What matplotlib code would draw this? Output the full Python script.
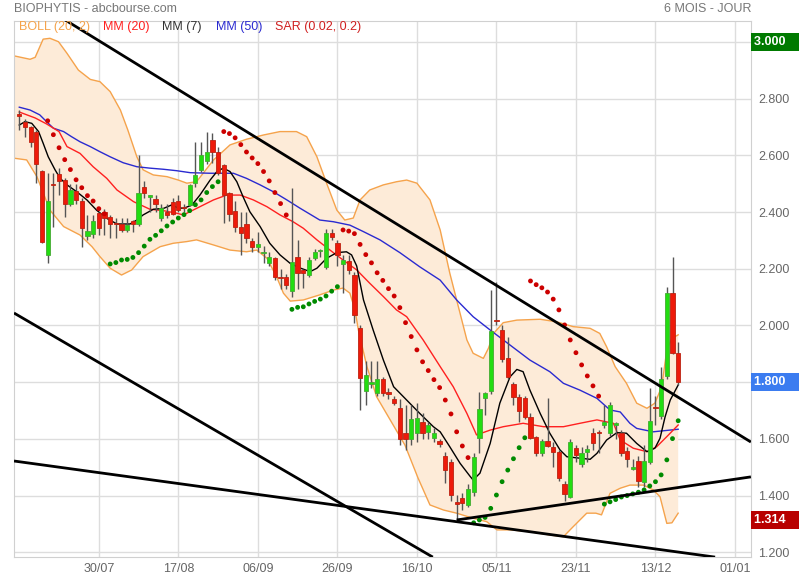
import matplotlib
matplotlib.use("Agg")
import matplotlib.pyplot as plt
import matplotlib.transforms as mtransforms
import numpy as np

plt.rcParams['font.family'] = ['Liberation Sans', 'DejaVu Sans']

# daily candles, index 0 = first trading day shown
opens = [2.745, 2.719, 2.699, 2.684, 2.546, 2.248, 2.497, 2.534, 2.513, 2.428,
         2.473, 2.439, 2.317, 2.322, 2.396, 2.399, 2.383, 2.358, 2.358, 2.337,
         2.369, 2.358, 2.487, 2.452, 2.447, 2.378, 2.401, 2.437, 2.439, 2.414,
         2.425, 2.502, 2.549, 2.581, 2.654, 2.613, 2.566, 2.466, 2.405, 2.346,
         2.357, 2.299, 2.276, 2.255, 2.219, 2.237, 2.170, 2.172, 2.123, 2.243,
         2.196, 2.178, 2.237, 2.261, 2.207, 2.325, 2.290, 2.217, 2.229, 2.178,
         1.992, 1.770, 1.794, 1.761, 1.810, 1.762, 1.740, 1.710, 1.620, 1.600,
         1.620, 1.660, 1.625, 1.603, 1.593, 1.540, 1.520, 1.378, 1.390, 1.367,
         1.411, 1.602, 1.743, 1.770, 2.017, 1.984, 1.884, 1.793, 1.747, 1.743,
         1.678, 1.606, 1.549, 1.593, 1.570, 1.553, 1.440, 1.396, 1.569, 1.511,
         1.553, 1.622, 1.623, 1.649, 1.622, 1.650, 1.620, 1.557, 1.495, 1.523,
         1.449, 1.520, 1.712, 1.681, 1.822, 2.114, 1.902]
highs = [2.760, 2.727, 2.705, 2.690, 2.550, 2.537, 2.537, 2.554, 2.520, 2.500,
         2.500, 2.450, 2.390, 2.390, 2.400, 2.410, 2.390, 2.380, 2.380, 2.380,
         2.372, 2.601, 2.510, 2.460, 2.460, 2.430, 2.430, 2.450, 2.460, 2.430,
         2.500, 2.648, 2.648, 2.684, 2.678, 2.630, 2.570, 2.470, 2.440, 2.400,
         2.400, 2.310, 2.330, 2.280, 2.260, 2.240, 2.200, 2.180, 2.484, 2.300,
         2.200, 2.240, 2.270, 2.270, 2.339, 2.340, 2.300, 2.250, 2.250, 2.190,
         2.000, 1.875, 1.875, 1.875, 1.820, 1.780, 1.750, 1.740, 1.720, 1.720,
         1.727, 1.690, 1.660, 1.640, 1.600, 1.555, 1.530, 1.402, 1.410, 1.440,
         1.550, 1.766, 1.766, 2.125, 2.155, 2.000, 1.960, 1.800, 1.760, 1.750,
         1.690, 1.610, 1.600, 1.743, 1.590, 1.560, 1.450, 1.600, 1.580, 1.570,
         1.580, 1.640, 1.630, 1.720, 1.730, 1.660, 1.630, 1.570, 1.530, 1.540,
         1.580, 1.778, 1.750, 1.855, 2.137, 2.243, 1.943]
lows = [2.690, 2.666, 2.631, 2.502, 2.290, 2.219, 2.349, 2.460, 2.382, 2.420,
        2.430, 2.278, 2.300, 2.310, 2.320, 2.320, 2.310, 2.310, 2.330, 2.330,
        2.330, 2.350, 2.450, 2.400, 2.400, 2.370, 2.380, 2.390, 2.400, 2.400,
        2.420, 2.490, 2.540, 2.570, 2.572, 2.530, 2.361, 2.370, 2.330, 2.249,
        2.290, 2.260, 2.260, 2.220, 2.210, 2.160, 2.130, 2.130, 2.102, 2.130,
        2.133, 2.170, 2.230, 2.240, 2.200, 2.300, 2.210, 2.114, 2.180, 2.009,
        1.702, 1.720, 1.780, 1.750, 1.750, 1.740, 1.720, 1.580, 1.560, 1.580,
        1.590, 1.600, 1.600, 1.590, 1.570, 1.443, 1.380, 1.314, 1.350, 1.360,
        1.400, 1.551, 1.686, 1.760, 2.000, 1.870, 1.810, 1.720, 1.660, 1.670,
        1.600, 1.540, 1.540, 1.570, 1.500, 1.450, 1.380, 1.390, 1.520, 1.500,
        1.520, 1.560, 1.550, 1.640, 1.610, 1.600, 1.540, 1.500, 1.490, 1.430,
        1.430, 1.510, 1.650, 1.670, 1.810, 1.900, 1.790]
closes = [2.740, 2.699, 2.648, 2.570, 2.296, 2.439, 2.495, 2.511, 2.428, 2.478,
          2.443, 2.343, 2.333, 2.369, 2.345, 2.378, 2.358, 2.357, 2.337, 2.353,
          2.358, 2.466, 2.466, 2.459, 2.429, 2.413, 2.390, 2.393, 2.407, 2.413,
          2.496, 2.531, 2.601, 2.611, 2.613, 2.537, 2.460, 2.392, 2.346, 2.325,
          2.308, 2.276, 2.287, 2.256, 2.243, 2.170, 2.168, 2.143, 2.225, 2.184,
          2.184, 2.231, 2.260, 2.262, 2.325, 2.313, 2.249, 2.231, 2.196, 2.037,
          1.814, 1.825, 1.802, 1.810, 1.761, 1.760, 1.728, 1.600, 1.600, 1.669,
          1.675, 1.620, 1.649, 1.620, 1.581, 1.490, 1.402, 1.370, 1.375, 1.422,
          1.537, 1.704, 1.761, 1.982, 2.015, 1.881, 1.817, 1.749, 1.700, 1.678,
          1.604, 1.549, 1.593, 1.576, 1.553, 1.463, 1.405, 1.590, 1.543, 1.551,
          1.563, 1.587, 1.620, 1.661, 1.720, 1.656, 1.551, 1.528, 1.500, 1.453,
          1.523, 1.663, 1.710, 1.810, 2.114, 1.902, 1.800]

# parabolic SAR (none before day 5)
sar = [None] * 5 + [
    2.722, 2.673, 2.627, 2.585, 2.550, 2.514, 2.486, 2.458, 2.439, 2.412, 2.394,
    2.217, 2.222, 2.231, 2.233, 2.240, 2.257, 2.280, 2.304, 2.318, 2.334,
    2.351, 2.365, 2.379, 2.391, 2.405, 2.426, 2.443, 2.469, 2.490, 2.507,
    2.684, 2.677, 2.662, 2.638, 2.612, 2.591, 2.571, 2.543, 2.510, 2.469,
    2.430, 2.390,
    2.057, 2.064, 2.066, 2.076, 2.085, 2.093, 2.104, 2.121, 2.137,
    2.337, 2.333, 2.324, 2.286, 2.250, 2.221, 2.186, 2.159, 2.130, 2.104,
    2.063, 2.010, 1.961, 1.914, 1.872, 1.841, 1.809, 1.781, 1.737, 1.688,
    1.625, 1.575, 1.534,
    1.304, 1.314, 1.323, 1.355, 1.402, 1.449, 1.490, 1.530, 1.569, 1.604,
    2.157, 2.144, 2.133, 2.118, 2.093, 2.055, 2.002, 1.949, 1.904, 1.861,
    1.822, 1.787, 1.751,
    1.370, 1.378, 1.386, 1.395, 1.400, 1.406, 1.412, 1.420, 1.434, 1.449,
    1.473, 1.526, 1.601, 1.664]

# Bollinger (20, 2) upper / lower band
bb_up_x = [-0.9, 1.9, 2.8, 4.2, 5.4, 6.9, 8.4, 10.4, 12.5, 14.2, 16.0, 17.8,
           19.1, 20.7, 21.8, 23.6, 26.0, 28.0, 29.5, 31.2, 34.2, 37.1, 40.0,
           43.0, 45.9, 48.8, 50.6, 52.4, 54.1, 55.9, 57.3, 58.8, 60.0, 61.7,
           64.1, 66.4, 68.2, 70.0, 72.3, 74.1, 75.8, 77.6, 78.8, 79.9, 81.7,
           82.6, 83.5, 85.2, 87.6, 91.7, 94.6, 97.5, 100.5, 102.2, 103.4,
           104.9, 106.9, 108.7, 110.5, 111.9, 113.1, 114.0, 114.9, 116.0]
bb_up = [2.951, 2.939, 2.946, 3.010, 3.013, 3.001, 2.960, 2.901, 2.868, 2.860,
         2.825, 2.760, 2.690, 2.595, 2.549, 2.531, 2.525, 2.513, 2.502, 2.507,
         2.584, 2.637, 2.657, 2.672, 2.684, 2.684, 2.666, 2.595, 2.502, 2.407,
         2.372, 2.379, 2.443, 2.478, 2.496, 2.507, 2.513, 2.502, 2.443, 2.337,
         2.184, 2.043, 1.949, 1.902, 1.884, 1.920, 1.972, 2.010, 2.019, 2.022,
         2.013, 1.996, 1.990, 1.972, 1.925, 1.855, 1.796, 1.726, 1.708, 1.726,
         1.784, 1.914, 1.955, 1.967]
bb_lo_x = [-0.9, 1.3, 3.1, 5.4, 7.8, 10.7, 12.8, 14.2, 16.0, 18.0, 19.8, 21.8,
           24.8, 27.1, 29.5, 31.2, 34.2, 37.1, 40.0, 41.8, 43.6, 45.3, 46.5,
           47.7, 50.0, 52.9, 55.3, 57.0, 58.2, 59.1, 59.7, 61.2, 62.9, 65.3,
           67.9, 70.2, 72.3, 74.7, 77.0, 79.9, 82.3, 84.1, 86.4, 89.9, 93.4,
           95.8, 97.5, 99.9, 101.5, 102.5, 104.0, 105.8, 107.5, 109.9, 111.6,
           112.8, 114.0, 114.9, 116.0]
bb_lo = [2.590, 2.584, 2.525, 2.407, 2.349, 2.319, 2.278, 2.243, 2.202, 2.178,
         2.196, 2.243, 2.278, 2.290, 2.296, 2.302, 2.284, 2.266, 2.260, 2.266,
         2.237, 2.172, 2.114, 2.086, 2.090, 2.108, 2.125, 2.132, 2.114, 2.055,
         1.984, 1.855, 1.749, 1.667, 1.578, 1.462, 1.367, 1.349, 1.338, 1.320,
         1.308, 1.279, 1.279, 1.273, 1.261, 1.255, 1.290, 1.338, 1.338, 1.332,
         1.408, 1.426, 1.437, 1.437, 1.420, 1.396, 1.302, 1.304, 1.338]

# moving averages
mm50_x = [0, 1.9, 3.6, 4.8, 6.0, 7.8, 9.2, 10.7, 12.5, 14.2, 16.0, 18.3, 20.7,
          23.0, 25.4, 27.7, 30.1, 33.6, 37.7, 40.0, 42.4, 44.7, 47.1, 49.4,
          52.9, 55.3, 58.2, 60.6, 63.5, 67.0, 70.5, 74.1, 77.0, 79.9, 82.9,
          86.4, 89.9, 93.4, 95.8, 98.7, 101.7, 104.0, 105.8, 107.5, 108.7,
          111.6, 116.0]
mm50 = [2.770, 2.760, 2.743, 2.719, 2.696, 2.684, 2.666, 2.648, 2.631, 2.613,
        2.595, 2.574, 2.560, 2.555, 2.551, 2.546, 2.539, 2.537, 2.537, 2.519,
        2.496, 2.472, 2.443, 2.414, 2.372, 2.366, 2.354, 2.331, 2.302, 2.257,
        2.207, 2.160, 2.090, 2.031, 1.984, 1.931, 1.878, 1.837, 1.796, 1.772,
        1.743, 1.702, 1.695, 1.655, 1.637, 1.625, 1.634]
mm20_x = [0, 2.8, 4.8, 7.0, 8.4, 10.7, 13.0, 15.4, 17.2, 20.1, 23.0, 25.4,
          27.7, 28.9, 31.2, 34.2, 36.5, 38.9, 41.2, 43.6, 45.9, 48.2, 50.0,
          52.4, 54.7, 57.0, 59.4, 61.7, 64.1, 66.4, 68.2, 71.1, 74.1, 76.4,
          78.8, 80.5, 82.9, 85.2, 88.7, 92.3, 95.8, 98.7, 101.7, 104.6, 105.8,
          108.1, 110.5, 112.2, 114.0, 116.0]
mm20 = [2.753, 2.732, 2.711, 2.684, 2.631, 2.607, 2.560, 2.519, 2.478, 2.437,
        2.410, 2.405, 2.396, 2.390, 2.413, 2.443, 2.460, 2.460, 2.443, 2.419,
        2.390, 2.366, 2.343, 2.302, 2.266, 2.231, 2.196, 2.149, 2.102, 2.055,
        2.031, 1.949, 1.855, 1.784, 1.690, 1.614, 1.631, 1.643, 1.655, 1.643,
        1.643, 1.655, 1.667, 1.655, 1.596, 1.567, 1.555, 1.572, 1.608, 1.649]
mm7_x = [0, 1.0, 2.2, 3.4, 4.2, 5.1, 6.3, 7.2, 8.4, 10.1, 11.9, 13.6, 15.4,
         17.2, 19.5, 20.7, 21.8, 23.6, 25.4, 26.8, 27.7, 28.9, 30.4, 31.8,
         33.6, 34.8, 35.9, 37.1, 38.3, 39.4, 40.6, 42.4, 44.1, 45.9, 47.7,
         49.4, 51.2, 52.4, 54.1, 55.9, 57.6, 58.5, 59.4, 60.6, 62.3, 64.1,
         65.9, 68.2, 70.5, 72.9, 74.1, 75.8, 77.6, 79.4, 79.9, 81.1, 82.9,
         84.6, 86.4, 87.6, 88.7, 89.9, 91.7, 93.4, 95.2, 96.4, 98.7, 100.5,
         101.7, 103.4, 105.2, 106.9, 108.7, 110.5, 111.9, 112.8, 113.7, 114.6,
         116.0]
mm7 = [2.707, 2.719, 2.713, 2.684, 2.643, 2.595, 2.549, 2.519, 2.496, 2.472,
       2.443, 2.407, 2.378, 2.358, 2.358, 2.372, 2.390, 2.410, 2.413, 2.425,
       2.417, 2.413, 2.425, 2.460, 2.513, 2.543, 2.555, 2.543, 2.507, 2.454,
       2.401, 2.349, 2.290, 2.249, 2.219, 2.203, 2.190, 2.202, 2.237, 2.257,
       2.260, 2.249, 2.210, 2.090, 1.984, 1.878, 1.784, 1.737, 1.690, 1.643,
       1.625, 1.572, 1.514, 1.467, 1.455, 1.479, 1.584, 1.726, 1.819, 1.845,
       1.837, 1.772, 1.690, 1.620, 1.561, 1.537, 1.532, 1.528, 1.549, 1.596,
       1.622, 1.620, 1.584, 1.555, 1.567, 1.602, 1.678, 1.737, 1.790]

# hand drawn trend lines: (x0, y0, x1, y1)
trend_lines = [(8.05, 3.078, 128.8, 1.589),
               (-0.93, 2.044, 72.8, 1.183),
               (-0.93, 1.522, 122.5, 1.183),
               (77.0, 1.314, 128.8, 1.466)]

tick_pos = [14, 28, 42, 56, 70, 84, 98, 112, 126]
tick_labels = ['30/07', '17/08', '06/09', '26/09', '16/10', '05/11', '23/11',
               '13/12', '01/01']
price_ticks = [1.2, 1.4, 1.6, 1.8, 2.0, 2.2, 2.4, 2.6, 2.8, 3.0]

fig = plt.figure(figsize=(8, 5.8), dpi=100)
ax = fig.add_axes([14 / 800, 1 - 557 / 580, 737 / 800, 536.5 / 580])
ax.set_xlim(-0.93, 128.82)
ax.set_ylim(1.1834, 3.0758)

# grid
for t in tick_pos:
    ax.axvline(t, color='#dddddd', lw=1, zorder=0)
for p in price_ticks:
    ax.axhline(p, color='#dddddd', lw=1, zorder=0)

# bollinger area
poly_x = bb_up_x + bb_lo_x[::-1]
poly_y = bb_up + bb_lo[::-1]
ax.fill(poly_x, poly_y, color='#fdebd8', lw=0, zorder=1)
ax.plot(bb_up_x, bb_up, color='#f5a34c', lw=1, zorder=2)
ax.plot(bb_lo_x, bb_lo, color='#f5a34c', lw=1, zorder=2)

ax.plot(mm50_x, mm50, color='#2a2ad0', lw=1, zorder=3)
ax.plot(mm20_x, mm20, color='#ff2020', lw=1, zorder=3)
ax.plot(mm7_x, mm7, color='black', lw=1, zorder=3)

# candles
idx = np.arange(len(closes))
o = np.array(opens)
c = np.array(closes)
ax.vlines(idx, lows, highs, color='#555555', lw=1, zorder=4)
up = c >= o
body_lo = np.minimum(o, c)
body_h = np.maximum(np.abs(c - o), 0.004)
ax.bar(idx[up], body_h[up], bottom=body_lo[up], width=0.75,
       color='#22dd11', edgecolor='#44aa33', lw=0.6, zorder=5)
ax.bar(idx[~up], body_h[~up], bottom=body_lo[~up], width=0.75,
       color='#ee1a0a', edgecolor='#bb2211', lw=0.6, zorder=5)

# SAR dots
sx = [i for i, s in enumerate(sar) if s is not None]
sy = [sar[i] for i in sx]
scol = ['#cc0000' if sar[i] > closes[i] else '#008a00' for i in sx]
ax.scatter(sx, sy, s=12, c=scol, lw=0, zorder=6)

for x0, y0, x1, y1 in trend_lines:
    ax.plot([x0, x1], [y0, y1], color='black', lw=2, zorder=7,
            solid_capstyle='butt')

# axes styling
for sp in ax.spines.values():
    sp.set_color('#d0d0d0')
ax.set_xticks(tick_pos)
ax.set_xticklabels(tick_labels)
ax.yaxis.tick_right()
ax.set_yticks(price_ticks)
ax.set_yticklabels(['' if p in (3.0, 1.8) else '%.3f' % p for p in price_ticks])
ax.tick_params(length=0, labelsize=9, labelcolor='#666666')
ax.tick_params(axis='y', pad=5)
ax.tick_params(axis='x', pad=4)

# value tags on the price axis
trans = mtransforms.blended_transform_factory(ax.transAxes, ax.transData)
tags = [(3.0, '3.000', '#007a00'), (1.8, '1.800', '#3b7cf0'),
        (1.314, '1.314', '#b80000')]
for val, txt, col in tags:
    ax.text(1.004, val, txt + '   ', transform=trans, va='center', ha='left',
            fontsize=9, color='white', fontweight='bold',
            bbox=dict(boxstyle='square,pad=0.25', fc=col, ec='none'))

# legend row and titles
legend = [('BOLL (20, 2)', '#f5a34c', 19), ('MM (20)', '#ff2020', 103),
          ('MM (7)', '#333333', 162), ('MM (50)', '#2a2ad0', 216),
          ('SAR (0.02, 0.2)', '#d02020', 275)]
for txt, col, px in legend:
    fig.text(px / 800, 1 - 27 / 580, txt, color=col, fontsize=9, va='center')
fig.text(14 / 800, 1 - 9 / 580, 'BIOPHYTIS - abcbourse.com', color='#777777',
         fontsize=9, va='center')
fig.text(752 / 800, 1 - 9 / 580, '6 MOIS - JOUR', color='#777777',
         fontsize=9, va='center', ha='right')

fig.savefig('out.png', dpi=100)
